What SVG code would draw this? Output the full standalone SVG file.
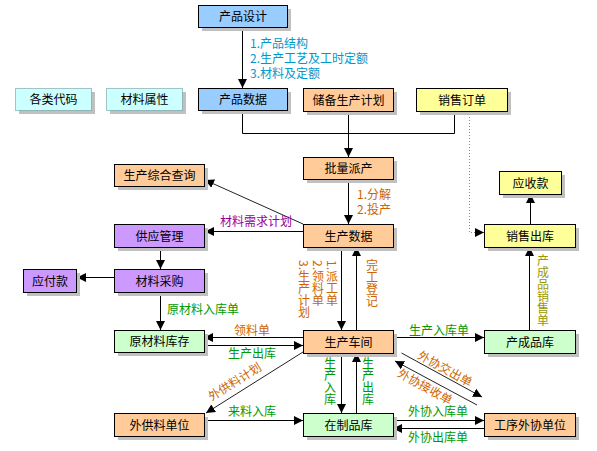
<svg xmlns="http://www.w3.org/2000/svg" width="597" height="451" viewBox="0 0 597 451">
<defs>
<marker id="ar" markerWidth="10" markerHeight="10" refX="9" refY="5" orient="auto" markerUnits="userSpaceOnUse">
<path d="M0,0.5 L9,5 L0,9.5 Z" fill="#000"/>
</marker>
<style>
.sh{fill:#c0c0c0}
.bx{stroke:#000;stroke-width:1}
.dot{stroke:#5a8a8a;stroke-width:1;stroke-dasharray:1 1;fill:#ccffff}
.blue{fill:#99ccff}.org{fill:#ffcc99}.yel{fill:#ffff99}.pur{fill:#cc99ff}.grn{fill:#ccffcc}
text{font-family:"Noto Sans CJK SC","Noto Sans",sans-serif;font-size:12px}
.t{text-anchor:middle;fill:#000}
.lb{fill:#0099cc}
.lo{fill:#cc6600}
.lg{fill:#009900}
.lp{fill:#990099}
.ly{fill:#999900}
.v{writing-mode:tb}
.c line,.c polyline{stroke:#000;stroke-width:1;fill:none}
.c .a{marker-end:url(#ar)}
.c .d{stroke:#888;stroke-dasharray:1 2}
.c .g{stroke:#222}
</style>
</defs>
<rect width="597" height="451" fill="#fff"/>
<g class="c" id="connectors">
<line class="a" x1="242.5" y1="27" x2="242.5" y2="88"/>
<polyline points="242.5,110 242.5,133.5 454.5,133.5 454.5,111"/>
<line x1="348.5" y1="111" x2="348.5" y2="133.5"/>
<line class="a" x1="348.5" y1="133.5" x2="348.5" y2="157"/>
<polyline class="d a" points="469.5,111 469.5,232.5 484,232.5"/>
<line class="a" x1="348.5" y1="179" x2="348.5" y2="224"/>
<line class="a g" x1="303" y1="224" x2="205" y2="180"/>
<line class="a" x1="303" y1="231.5" x2="205" y2="231.5"/>
<line class="a" x1="160.5" y1="247" x2="160.5" y2="269"/>
<line class="a" x1="114" y1="277.5" x2="77" y2="277.5"/>
<line class="a" x1="160.5" y1="292" x2="160.5" y2="330"/>
<line class="a" x1="341.5" y1="247" x2="341.5" y2="330"/>
<line class="a" x1="356.5" y1="330" x2="356.5" y2="247"/>
<line class="a" x1="303" y1="337.5" x2="204" y2="337.5"/>
<line class="a" x1="204" y1="345.5" x2="303" y2="345.5"/>
<line class="a" x1="393" y1="337.5" x2="484" y2="337.5"/>
<line class="a" x1="529.5" y1="330" x2="529.5" y2="247"/>
<line class="a" x1="530.5" y1="224" x2="530.5" y2="194"/>
<line class="a g" x1="303" y1="352" x2="206" y2="413"/>
<line class="a" x1="341.5" y1="353" x2="341.5" y2="413"/>
<line class="a" x1="356.5" y1="413" x2="356.5" y2="353"/>
<line class="a" x1="204" y1="420.5" x2="303" y2="420.5"/>
<line class="a g" x1="401.5" y1="353" x2="482" y2="397"/>
<line class="a g" x1="477" y1="405" x2="395" y2="361"/>
<line class="a" x1="393" y1="420.5" x2="484" y2="420.5"/>
<line class="a" x1="484" y1="428.5" x2="393" y2="428.5"/>
</g>
<g id="labels">
<text class="lb" x="250" y="48">1.产品结构</text>
<text class="lb" x="250" y="63">2.生产工艺及工时定额</text>
<text class="lb" x="250" y="78">3.材料及定额</text>
<text class="lp" x="220" y="226">材料需求计划</text>
<text class="lo" x="357" y="199">1.分解</text>
<text class="lo" x="357" y="214">2.投产</text>
<text class="lg" x="167" y="314">原材料入库单</text>
<text class="lo" x="252" y="335" text-anchor="middle">领料单</text>
<text class="lg" x="252" y="358" text-anchor="middle">生产出库</text>
<text class="lg" x="409" y="335">生产入库单</text>
<text class="lo v" x="332" y="260">1.派工单</text>
<text class="lo v" x="318" y="260">2.领料单</text>
<text class="lo v" x="304" y="260">3.生产计划</text>
<text class="lo v" x="372" y="259">完工登记</text>
<text class="ly v" x="543" y="254">产成品销售单</text>
<text class="lg v" x="330" y="357">生产入库</text>
<text class="lg v" x="368" y="357">生产出库</text>
<text class="lo" x="235" y="386" text-anchor="middle" transform="rotate(-32 235 382)">外供料计划</text>
<text class="lg" x="228" y="416">来料入库</text>
<text class="lo" x="445" y="373" text-anchor="middle" transform="rotate(29 445 369)">外协交出单</text>
<text class="lo" x="425" y="391" text-anchor="middle" transform="rotate(29 425 387)">外协接收单</text>
<text class="lg" x="408" y="416">外协入库单</text>
<text class="lg" x="408" y="442">外协出库单</text>
</g>
<g id="n1"><rect class="sh" x="202" y="9" width="89" height="22"/><rect class="bx blue" x="198.5" y="5.5" width="89" height="22"/><text class="t" x="243" y="21">产品设计</text></g>
<g id="n2"><rect class="sh" x="19" y="92" width="76" height="22"/><rect class="dot" x="15.5" y="88.5" width="76" height="22"/><text class="t" x="53.5" y="104">各类代码</text></g>
<g id="n3"><rect class="sh" x="110" y="92" width="76" height="22"/><rect class="dot" x="106.5" y="88.5" width="76" height="22"/><text class="t" x="144.5" y="104">材料属性</text></g>
<g id="n4"><rect class="sh" x="202" y="92" width="89" height="22"/><rect class="bx blue" x="198.5" y="88.5" width="89" height="22"/><text class="t" x="243" y="104">产品数据</text></g>
<g id="n5"><rect class="sh" x="307" y="92" width="90" height="23"/><rect class="bx org" x="303.5" y="88.5" width="90" height="23"/><text class="t" x="348.5" y="104.5">储备生产计划</text></g>
<g id="n6"><rect class="sh" x="420" y="92" width="91" height="23"/><rect class="bx yel" x="416.5" y="88.5" width="91" height="23"/><text class="t" x="462" y="104.5">销售订单</text></g>
<g id="n7"><rect class="sh" x="307" y="161" width="90" height="22"/><rect class="bx org" x="303.5" y="157.5" width="90" height="22"/><text class="t" x="348.5" y="173">批量派产</text></g>
<g id="n8"><rect class="sh" x="118" y="168" width="90" height="22"/><rect class="bx org" x="114.5" y="164.5" width="90" height="22"/><text class="t" x="159.5" y="180">生产综合查询</text></g>
<g id="n9"><rect class="sh" x="503" y="175" width="62" height="23"/><rect class="bx yel" x="499.5" y="171.5" width="62" height="23"/><text class="t" x="530.5" y="187.5">应收款</text></g>
<g id="n10"><rect class="sh" x="307" y="228" width="90" height="23"/><rect class="bx org" x="303.5" y="224.5" width="90" height="23"/><text class="t" x="348.5" y="240.5">生产数据</text></g>
<g id="n11"><rect class="sh" x="118" y="228" width="90" height="23"/><rect class="bx pur" x="114.5" y="224.5" width="90" height="23"/><text class="t" x="159.5" y="240.5">供应管理</text></g>
<g id="n12"><rect class="sh" x="488" y="228" width="91" height="23"/><rect class="bx yel" x="484.5" y="224.5" width="91" height="23"/><text class="t" x="530" y="240.5">销售出库</text></g>
<g id="n13"><rect class="sh" x="27" y="273" width="53" height="23"/><rect class="bx pur" x="23.5" y="269.5" width="53" height="23"/><text class="t" x="50" y="285.5">应付款</text></g>
<g id="n14"><rect class="sh" x="118" y="273" width="90" height="23"/><rect class="bx pur" x="114.5" y="269.5" width="90" height="23"/><text class="t" x="159.5" y="285.5">材料采购</text></g>
<g id="n15"><rect class="sh" x="118" y="334" width="90" height="22"/><rect class="bx grn" x="114.5" y="330.5" width="90" height="22"/><text class="t" x="159.5" y="346">原材料库存</text></g>
<g id="n16"><rect class="sh" x="307" y="334" width="90" height="23"/><rect class="bx org" x="303.5" y="330.5" width="90" height="23"/><text class="t" x="348.5" y="346.5">生产车间</text></g>
<g id="n17"><rect class="sh" x="488" y="334" width="91" height="23"/><rect class="bx grn" x="484.5" y="330.5" width="91" height="23"/><text class="t" x="530" y="346.5">产成品库</text></g>
<g id="n18"><rect class="sh" x="118" y="417" width="90" height="23"/><rect class="bx org" x="114.5" y="413.5" width="90" height="23"/><text class="t" x="159.5" y="429.5">外供料单位</text></g>
<g id="n19"><rect class="sh" x="307" y="417" width="90" height="23"/><rect class="bx grn" x="303.5" y="413.5" width="90" height="23"/><text class="t" x="348.5" y="429.5">在制品库</text></g>
<g id="n20"><rect class="sh" x="488" y="417" width="91" height="23"/><rect class="bx org" x="484.5" y="413.5" width="91" height="23"/><text class="t" x="530" y="429.5">工序外协单位</text></g>
</svg>
